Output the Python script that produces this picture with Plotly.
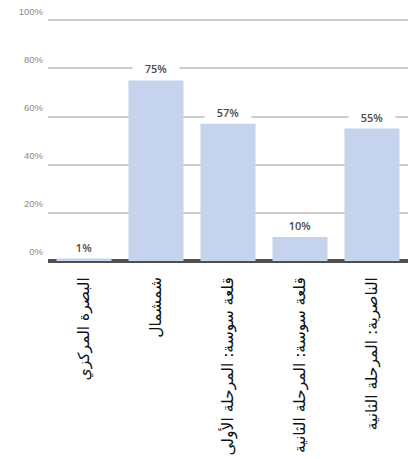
import plotly.graph_objects as go

categories = ["البصرة المركزي", "شمشمال", "قلعة سوسة: المرحلة الأولى",
              "قلعة سوسة: المرحلة الثانية", "الناصرية: المرحلة الثانية"]
values = [1, 75, 57, 10, 55]
value_labels = ["1%", "75%", "57%", "10%", "55%"]
y_ticks = [0, 20, 40, 60, 80, 100]
y_tick_labels = ["0%", "20%", "40%", "60%", "80%", "100%"]

fig = go.Figure()
fig.add_trace(go.Bar(x=categories, y=values, marker=dict(color="#c5d3ec", line=dict(width=0)),
                     hoverinfo="skip"))

for c, v, t in zip(categories, values, value_labels):
    fig.add_annotation(x=c, y=v, text=t, showarrow=False, yanchor="bottom", yshift=3,
                       bgcolor="white", width=44, height=14,
                       font=dict(family="Open Sans", size=11, color="#4a4a4a", weight=600))

fig.update_layout(
    width=411, height=459,
    margin=dict(l=48, r=3, t=19, b=198),
    paper_bgcolor="white", plot_bgcolor="white",
    bargap=0.235, showlegend=False,
)
fig.update_xaxes(
    tickangle=-90, automargin=False, showgrid=False, showline=False, ticks="",
    tickfont=dict(family="DejaVu Sans", size=15.5, color="#111111"),
    ticklabelstandoff=12,
)
fig.update_yaxes(
    range=[0, 100.5], tickvals=y_ticks, ticktext=y_tick_labels, automargin=False,
    showgrid=True, gridcolor="#cccccc", gridwidth=1.5,
    zeroline=True, zerolinecolor="#505050", zerolinewidth=4,
    ticks="", ticklabelshift=-9, ticklabelstandoff=4,
    tickfont=dict(family="Liberation Sans Narrow, Liberation Sans", size=9.5, color="#8a8a8a"),
)
fig.write_html("out.html", config={"displayModeBar": False},
               post_script="document.body.style.margin='0';document.body.style.overflow='hidden';")
